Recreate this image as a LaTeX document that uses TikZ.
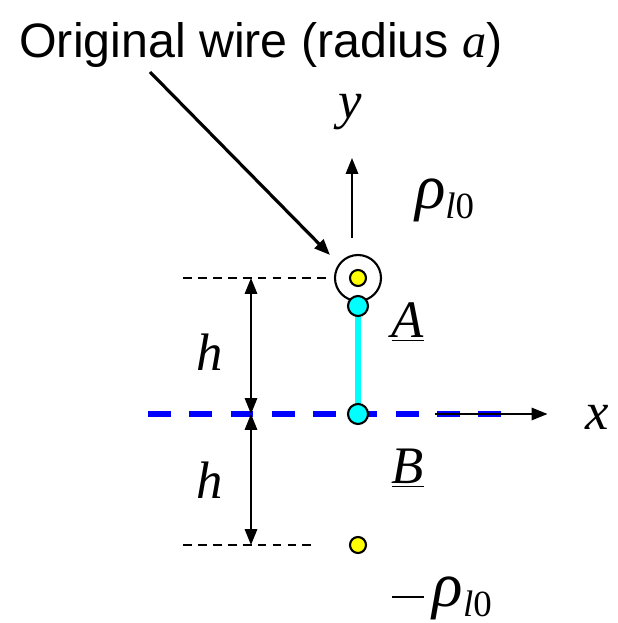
\documentclass[tikz,border=0pt]{standalone}
\usepackage{fontspec}
\setmainfont{Liberation Sans}
\newfontfamily\tms{Liberation Serif}
\usepackage{tikz}
\usetikzlibrary{arrows.meta}

\definecolor{aqua}{RGB}{0,255,255}
\definecolor{dotyellow}{RGB}{255,255,0}
\definecolor{planeblue}{RGB}{0,0,255}
\newcommand{\sym}[1]{{\tms\itshape #1}}
\newcommand{\rhol}{{\fontsize{36}{40}\selectfont\sym{ρ}}\textsubscript{\sym{l}{\tms 0}}}

\begin{document}
\begin{tikzpicture}[>={Triangle[length=9pt,width=7pt]},
  lbl/.style={font=\fontsize{30}{34}\selectfont},
  wiredot/.style={draw,line width=1.2pt,fill=dotyellow},
  ptdot/.style={draw,line width=1.2pt,fill=aqua}]
\useasboundingbox (0,0) rectangle (12.34,12.46);
% points
\coordinate (W) at (7.16,6.9);
\coordinate (A) at (7.16,6.34);
\coordinate (B) at (7.16,4.18);
\coordinate (I) at (7.16,1.56);
% ground plane and axes
\draw[planeblue,line width=3pt,dash pattern=on 13pt off 10.5pt] (2.96,4.18) -- (10.2,4.18);
\draw[->,line width=1.1pt] (8.7,4.18) -- (10.95,4.18);
\node[lbl] (xl) at (11.94,4.12) {\sym{x}};
\draw[->,line width=1.1pt] (7.04,7.7) -- (7.04,9.3);
\node[lbl] (yl) at (7.0,10.22) {\sym{y}};
% segment A-B
\draw[aqua,line width=3.5pt] (A) -- (B);
% wire and image
\draw[line width=1.2pt] (W) circle (0.46);
\draw[wiredot] (W) circle (0.16);
\draw[wiredot] (I) circle (0.16);
\draw[ptdot] (A) circle (0.2);
\draw[ptdot] (B) circle (0.2);
% heights
\coordinate (h1) at (3.66,6.9);
\coordinate (h2) at (3.66,1.56);
\draw[line width=1pt,dash pattern=on 5pt off 3.5pt] (h1) -- (6.6,6.9);
\draw[line width=1pt,dash pattern=on 5pt off 3.5pt] (h2) -- (6.3,1.56);
\draw[<->,line width=1.1pt] (5.02,6.9) -- (5.02,4.18);
\draw[<->,line width=1.1pt] (5.02,4.18) -- (5.02,1.56);
\node[lbl] (hu) at (4.2,5.42) {\sym{h}};
\node[lbl] (hd) at (4.2,2.86) {\sym{h}};
% labels
\node[lbl] (Al) at (8.16,6.02) {\underline{\sym{A}}};
\node[lbl] (Bl) at (8.16,3.1) {\underline{\sym{B}}};
\node[lbl] (rp) at (8.9,8.46) {\rhol};
\node[lbl] (rm) at (8.85,0.5) {\raisebox{0.3ex}{\rule{0.6em}{1.2pt}}\,\rhol};
\node[font=\fontsize{27.5}{31}\selectfont] (title) at (5.22,11.56) {Original wire (radius \sym{a})};
\coordinate (tip) at (6.6,7.36);
\draw[->,line width=1.8pt] (3.0,11.02) -- (tip);
\end{tikzpicture}
\end{document}
